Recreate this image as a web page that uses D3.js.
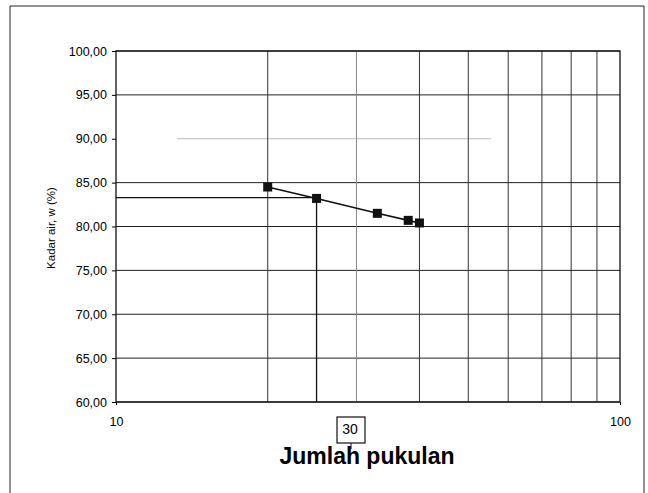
<!DOCTYPE html>
<meta charset="utf-8">
<script src="https://d3js.org/d3.v7.min.js"></script>
<style>
body { margin: 0; background: #fff; }
text { font-family: "Liberation Sans", Arial, sans-serif; fill: #000; }
</style>
<body></body>
<script>

// data
var blows = [20, 25, 33, 38, 40];
var moisture = [84.5, 83.2, 81.5, 80.7, 80.4];
var refBlows = [25];
var refMoisture = [83.3];
var yTicks = [60, 65, 70, 75, 80, 85, 90, 95, 100];
var xLabels = [10, 100];
var xGrid = [20, 30, 40, 50, 60, 70, 80, 90];
var boxLabel = "30";

var W = 648, H = 493;
var margin = {top: 51, right: 28, bottom: 91, left: 116};
var width = W - margin.left - margin.right,
    height = H - margin.top - margin.bottom;

var root = d3.select("body").append("svg")
    .attr("width", W)
    .attr("height", H);

// outer frame
root.append("path")
    .attr("d", "M10,500 V6 H644 V500")
    .attr("fill", "none")
    .attr("stroke", "#222")
    .attr("stroke-width", 1);

var svg = root.append("g")
    .attr("transform", `translate(${margin.left}, ${margin.top})`);

var x = d3.scaleLog().domain([10, 100]).range([0, width]);
var y = d3.scaleLinear().domain([60, 100]).range([height, 0]);

// grid (the 90 line is faded in the scan)
svg.selectAll(".hgrid")
  .data(yTicks)
  .enter().append("line")
    .attr("x1", d => d == 90 ? x(13.2) : 0)
    .attr("x2", d => d == 90 ? x(55.5) : width)
    .attr("y1", d => y(d)).attr("y2", d => y(d))
    .attr("stroke", d => d == 90 ? "#bbb" : "#222")
    .attr("stroke-width", 1);

svg.selectAll(".vgrid")
  .data(xGrid)
  .enter().append("line")
    .attr("x1", d => x(d)).attr("x2", d => x(d))
    .attr("y1", 0).attr("y2", height)
    .attr("stroke", d => d == 30 ? "#888" : "#333")
    .attr("stroke-width", 1);

// plot frame
svg.append("rect")
    .attr("width", width).attr("height", height)
    .attr("fill", "none").attr("stroke", "#111").attr("stroke-width", 1.3);

// y axis
var yAxis = d3.axisLeft(y).tickValues(yTicks).tickSize(4)
    .tickFormat(d => d3.format(".2f")(d).replace(".", ","));
svg.append("g").call(yAxis)
  .call(g => g.select(".domain").remove())
  .selectAll("text").style("font-size", "12.5px").attr("dx", "-2");

// x axis labels
var xAxis = d3.axisBottom(x).tickValues(xLabels).tickSize(3).tickFormat(d3.format("d"));
svg.append("g").attr("transform", `translate(0,${height})`).call(xAxis)
  .call(g => g.select(".domain").remove())
  .selectAll("text").style("font-size", "12.5px").attr("y", 15).attr("dy", "0.71em");

// reference lines at 25 blows
svg.append("line")
    .attr("x1", 0).attr("x2", x(refBlows[0]))
    .attr("y1", y(refMoisture[0])).attr("y2", y(refMoisture[0]))
    .attr("stroke", "#111").attr("stroke-width", 1.3);
svg.append("line")
    .attr("x1", x(refBlows[0])).attr("x2", x(refBlows[0]))
    .attr("y1", y(refMoisture[0])).attr("y2", height)
    .attr("stroke", "#111").attr("stroke-width", 1.3);

// data line and markers
var pts = blows.map((b, i) => [b, moisture[i]]);
svg.append("path")
    .datum(pts)
    .attr("fill", "none")
    .attr("stroke", "#111")
    .attr("stroke-width", 1.6)
    .attr("d", d3.line().x(d => x(d[0])).y(d => y(d[1])));

svg.selectAll(".pt")
  .data(pts)
  .enter().append("rect")
    .attr("x", d => x(d[0]) - 4.5)
    .attr("y", d => y(d[1]) - 4.5)
    .attr("width", 9).attr("height", 9)
    .attr("fill", "#111");

// y label
root.append("text")
    .attr("transform", "translate(55,228) rotate(-90)")
    .attr("text-anchor", "middle")
    .style("font-size", "11.5px")
    .text("Kadar air, w (%)");

// boxed label with pointer
root.append("line")
    .attr("x1", 351).attr("x2", 351).attr("y1", 443).attr("y2", 449)
    .attr("stroke", "#111");
root.append("rect")
    .attr("x", 337).attr("y", 417).attr("width", 28).attr("height", 26)
    .attr("fill", "#fff").attr("stroke", "#111").attr("stroke-width", 1.2);
root.append("text")
    .attr("x", 350).attr("y", 434)
    .attr("text-anchor", "middle")
    .style("font-size", "14px")
    .text(boxLabel);

// x title
root.append("text")
    .attr("x", 367).attr("y", 464)
    .attr("text-anchor", "middle")
    .style("font-size", "23px")
    .style("font-weight", "bold")
    .text("Jumlah pukulan");

</script>
